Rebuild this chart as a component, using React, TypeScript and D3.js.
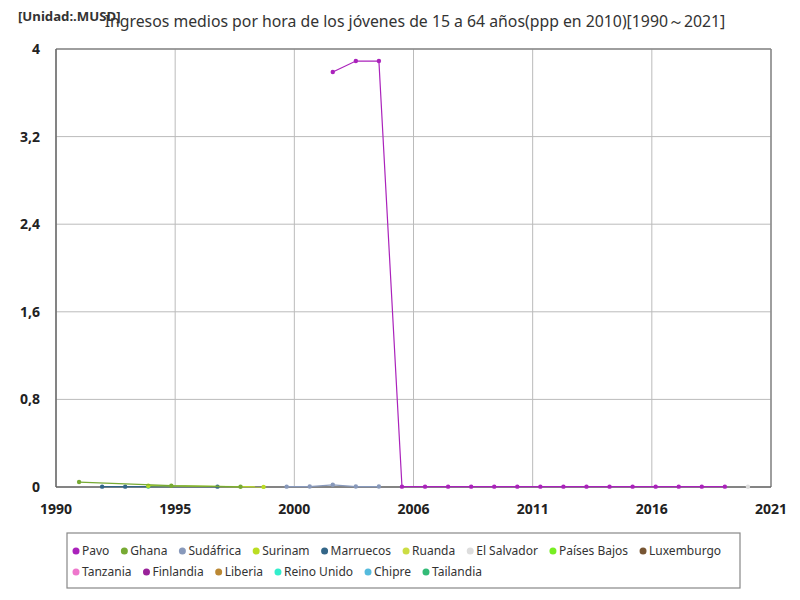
import React from "react";
import * as d3 from "d3";

const title = "Ingresos medios por hora de los jóvenes de 15 a 64 años(ppp en 2010)[1990～2021]";
const unitLabel = "[Unidad:.MUSD]";
const yTicks = [0, 0.8, 1.6, 2.4, 3.2, 4];
const xTicks = [1990, 1995.1667, 2000.3333, 2005.5, 2010.6667, 2015.8333, 2021];
const xTickLabels = ["1990", "1995", "2000", "2006", "2011", "2016", "2021"];

const seriesNames = ["Pavo", "Ghana", "Sudáfrica", "Surinam", "Marruecos", "Ruanda", "El Salvador", "Países Bajos", "Luxemburgo", "Tanzania", "Finlandia", "Liberia", "Reino Unido", "Chipre", "Tailandia"];
const seriesColors = ["#aa22bb", "#77aa33", "#8899bb", "#bbdd22", "#336688", "#ccdd44", "#dddddd", "#77ee22", "#775533", "#ee77cc", "#992299", "#bb8833", "#33eecc", "#55bbdd", "#33bb77"];

const pavoYears = [2002, 2003, 2004, 2005, 2006, 2007, 2008, 2009, 2010, 2011, 2012, 2013, 2014, 2015, 2016, 2017, 2018, 2019];
const pavoValues = [3.79, 3.89, 3.89, 0.003, 0.003, 0.003, 0.003, 0.003, 0.003, 0.003, 0.003, 0.003, 0.003, 0.003, 0.003, 0.003, 0.003, 0.003];
const ghanaYears = [1991, 1995, 1998];
const ghanaValues = [0.045, 0.012, 0.002];
const surinamYears = [1994, 1999];
const surinamValues = [0.012, 0.001];
const marruecosYears = [1992, 1993, 1997];
const marruecosValues = [0.003, 0.003, 0.003];
const tailandiaYears = [1994];
const tailandiaValues = [0.004];
const sudafricaYears = [2000, 2001, 2002, 2003, 2004];
const sudafricaValues = [0.003, 0.004, 0.02, 0.004, 0.004];
const elSalvadorYears = [2020];
const elSalvadorValues = [0.002];

const seriesData: { name: string; years: number[]; values: number[] }[] = [
  { name: "Sudáfrica", years: sudafricaYears, values: sudafricaValues },
  { name: "Marruecos", years: marruecosYears, values: marruecosValues },
  { name: "Tailandia", years: tailandiaYears, values: tailandiaValues },
  { name: "Surinam", years: surinamYears, values: surinamValues },
  { name: "Ghana", years: ghanaYears, values: ghanaValues },
  { name: "El Salvador", years: elSalvadorYears, values: elSalvadorValues },
  { name: "Pavo", years: pavoYears, values: pavoValues },
];

const W = 800, H = 600;
const L = 56, R = 771, T = 49, B = 487;
const font = "'Noto Sans', 'Open Sans', sans-serif";
const legendFontSize = 12;

let ctx: CanvasRenderingContext2D | null = null;
function measure(s: string): number {
  if (!ctx && typeof document !== "undefined") {
    ctx = document.createElement("canvas").getContext("2d");
  }
  if (ctx) {
    ctx.font = `${legendFontSize}px 'Noto Sans'`;
    return ctx.measureText(s).width;
  }
  return s.length * 6.2;
}

export default function App() {
  const x = d3.scaleLinear().domain([1990, 2021]).range([L, R]);
  const y = d3.scaleLinear().domain([0, 4]).range([B, T]);
  const color = d3.scaleOrdinal<string, string>().domain(seriesNames).range(seriesColors);
  const line = d3.line<[number, number]>().x(d => x(d[0])).y(d => y(d[1]));

  const row1 = seriesNames.slice(0, 9);
  const row2 = seriesNames.slice(9);
  const legendRow = (names: string[], ly: number) => {
    let cx = 76;
    return names.map(n => {
      const g = (
        <g key={n}>
          <circle cx={cx} cy={ly} r={3.5} fill={color(n)} />
          <text x={cx + 6} y={ly + 4.3} fontSize={legendFontSize} fontFamily={font} fill="#333">{n}</text>
        </g>
      );
      cx += 6 + measure(n) + 15;
      return g;
    });
  };

  return (
    <svg width={W} height={H} style={{ position: "absolute", left: 0, top: 0, background: "#fff" }}>
      <rect x={0} y={0} width={W} height={H} fill="#fff" />
      {yTicks.map(t => (
        <line key={"h" + t} x1={L} x2={R} y1={y(t)} y2={y(t)} stroke="#bbb" strokeWidth={1} />
      ))}
      {xTicks.map(t => (
        <line key={"v" + t} x1={x(t)} x2={x(t)} y1={T} y2={B} stroke="#bbb" strokeWidth={1} />
      ))}
      <line x1={L} x2={R} y1={T} y2={T} stroke="#888" strokeWidth={1.5} />
      <line x1={R} x2={R} y1={T} y2={B} stroke="#888" strokeWidth={1.5} />
      <line x1={L} x2={L} y1={T} y2={B} stroke="#666" strokeWidth={1.5} />
      <line x1={L} x2={R} y1={B} y2={B} stroke="#666" strokeWidth={1.5} />

      {seriesData.map(s => {
        const pts: [number, number][] = s.years.map((yr, i) => [yr, s.values[i]]);
        return (
          <g key={s.name}>
            <path d={line(pts) || ""} fill="none" stroke={color(s.name)} strokeWidth={1.2} />
            {pts.map((p, i) => (
              <circle key={i} cx={x(p[0])} cy={y(p[1])} r={2.2} fill={color(s.name)} />
            ))}
          </g>
        );
      })}

      {yTicks.map(t => (
        <text key={"yl" + t} x={40} y={y(t) + 5} textAnchor="end" fontSize={14} fontWeight="bold" fontFamily={font} fill="#222">
          {d3.format("")(t).replace(".", ",")}
        </text>
      ))}
      {xTicks.map((t, i) => (
        <text key={"xl" + t} x={x(t)} y={514} textAnchor="middle" fontSize={14} fontWeight="bold" fontFamily={font} fill="#222">
          {xTickLabels[i]}
        </text>
      ))}

      <text x={415} y={27} textAnchor="middle" fontSize={15.8} fontFamily={font} fill="#333">{title}</text>
      <text x={18} y={21} fontSize={13.2} fontWeight="bold" fontFamily={font} fill="#333">{unitLabel}</text>

      <rect x={67} y={533} width={673} height={55} fill="#fff" stroke="#888" strokeWidth={1.2} />
      {legendRow(row1, 551)}
      {legendRow(row2, 572)}
    </svg>
  );
}
